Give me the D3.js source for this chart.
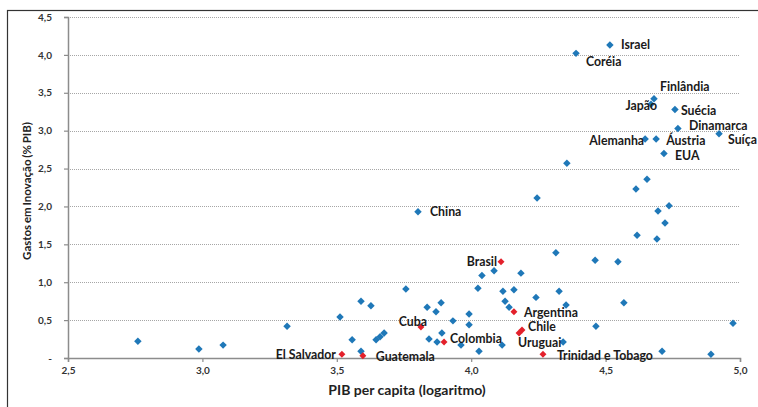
<!DOCTYPE html>
<html><head><meta charset="utf-8">
<script src="https://cdn.jsdelivr.net/npm/d3@7"></script>
<style>
html,body{margin:0;padding:0;background:#fff;}
svg{display:block;font-family:Lato,"Open Sans",sans-serif;}
</style></head>
<body><svg id="c" width="758" height="407"></svg>
<script>
// PIB per capita (log) and Gastos em Inovação (% PIB)
const blueX = [2.760,2.987,3.077,3.315,3.512,3.590,3.627,3.557,3.646,3.661,3.676,3.590,3.757,3.802,3.836,3.888,3.869,3.891,3.843,3.873,3.932,3.992,3.992,3.962,4.029,4.025,4.040,4.085,4.185,4.118,4.159,4.126,4.141,4.115,4.241,4.315,4.327,4.353,4.342,4.245,4.356,4.390,4.516,4.461,4.546,4.464,4.568,4.613,4.654,4.617,4.691,4.695,4.736,4.721,4.647,4.688,4.717,4.680,4.669,4.758,4.769,4.922,4.710,4.892,4.974];
const blueY = [0.22,0.12,0.17,0.42,0.54,0.75,0.69,0.24,0.24,0.28,0.33,0.09,0.91,1.93,0.67,0.73,0.61,0.33,0.25,0.21,0.49,0.58,0.44,0.17,0.09,0.92,1.09,1.15,1.12,0.88,0.90,0.75,0.67,0.17,0.80,1.39,0.88,0.70,0.21,2.11,2.57,4.02,4.13,1.29,1.27,0.42,0.73,2.23,2.36,1.62,1.57,1.94,2.01,1.78,2.89,2.89,2.70,3.42,3.35,3.28,3.03,2.96,0.09,0.05,0.46];
const redX = [4.111,4.159,3.813,4.189,4.178,3.899,3.519,3.597,4.267];
const redY = [1.27,0.61,0.41,0.37,0.33,0.21,0.05,0.03,0.05];

// labels
const labelNames = ["Israel","Coréia","Finlândia","Japão","Suécia","Dinamarca","Suíça","Alemanha","Áustria","EUA","China","Brasil","Argentina","Cuba","Chile","Uruguai","Colombia","El Salvador","Guatemala","Trinidad e Tobago"];
const labelX = [4.516,4.390,4.680,4.669,4.758,4.769,4.922,4.647,4.688,4.717,3.802,4.111,4.159,3.813,4.189,4.178,3.899,3.519,3.597,4.267];
const labelY = [4.13,4.02,3.42,3.35,3.28,3.03,2.96,2.89,2.89,2.70,1.93,1.27,0.61,0.41,0.37,0.33,0.21,0.05,0.03,0.05];
const labelDX = [11,10,6,6,6,11,9,-1,10,11,12,-4,10,6,6,-1,6,-6,13,14];
const labelDY = [0,8,-12,2,1,-3,6,2,2,2,0,0,1,-5,-3,10,-3,0,1,1];
const labelAnchor = ["start","start","start","end","start","start","start","end","start","start","start","end","start","end","start","start","start","end","start","start"];

const xTicks = [2.5,3.0,3.5,4.0,4.5,5.0];
const yTicks = [0,0.5,1.0,1.5,2.0,2.5,3.0,3.5,4.0,4.5];

const svg = d3.select("#c");
const W = 758, H = 407;
const m = {l:68, r:18, t:17, b:49};
const x = d3.scaleLinear().domain([2.5,5.0]).range([m.l, W-m.r]);
const y = d3.scaleLinear().domain([0,4.5]).range([H-m.b, m.t]);

// outer border
svg.append("rect").attr("x",7.5).attr("y",10.5).attr("width",800).attr("height",450)
  .attr("fill","none").attr("stroke","#333").attr("stroke-width",1.2);

// gridlines
svg.append("g").selectAll("line").data(yTicks.filter(d=>d>0)).join("line")
  .attr("x1",x(2.5)).attr("x2",x(5.0))
  .attr("y1",d=>Math.round(y(d))+0.5).attr("y2",d=>Math.round(y(d))+0.5)
  .attr("stroke","#a6a6a6").attr("stroke-width",1).attr("stroke-dasharray","1,1");

const fmt = d => d===0 ? "-" : d.toFixed(1).replace(".",",");

const ya = svg.append("g").attr("transform",`translate(${x(2.5)},0)`)
  .call(d3.axisLeft(y).tickValues(yTicks).tickFormat(fmt).tickSize(4).tickPadding(12));
const xa = svg.append("g").attr("transform",`translate(0,${y(0)})`)
  .call(d3.axisBottom(x).tickValues(xTicks).tickFormat(fmt).tickSize(4).tickPadding(5));
[ya,xa].forEach(a=>{
  a.select(".domain").attr("stroke","#8c8c8c").attr("stroke-width",1.5);
  a.selectAll(".tick line").attr("stroke","#8c8c8c").attr("stroke-width",1.2);
  a.selectAll(".tick text").attr("fill","#333").attr("font-size","10px").attr("font-weight","bold")
   .attr("font-family","Lato,'Open Sans',sans-serif");
});

// axis titles
svg.append("text").attr("x",407).attr("y",395).attr("text-anchor","middle")
  .attr("font-size","14px").attr("font-weight","bold").attr("fill","#222")
  .text("PIB per capita (logaritmo)");
svg.append("text").attr("transform","translate(31,191) rotate(-90)").attr("text-anchor","middle")
  .attr("font-size","11.5px").attr("font-weight","bold").attr("fill","#222").attr("word-spacing","-1px")
  .text("Gastos em Inovação (% PIB)");

// points
const sym = d3.symbol().type(d3.symbolSquare);
svg.append("g").selectAll("path").data(blueX.map((v,i)=>[v,blueY[i]])).join("path")
  .attr("d",sym.size(28)())
  .attr("transform",d=>`translate(${x(d[0])},${y(d[1])}) rotate(45)`)
  .attr("fill","#1f78b8");
svg.append("g").selectAll("path").data(redX.map((v,i)=>[v,redY[i]])).join("path")
  .attr("d",sym.size(24)())
  .attr("transform",d=>`translate(${x(d[0])},${y(d[1])}) rotate(45)`)
  .attr("fill","#e3202b");

// labels
svg.append("g").selectAll("text").data(labelNames.map((n,i)=>i)).join("text")
  .attr("x",i=>x(labelX[i])+labelDX[i])
  .attr("y",i=>y(labelY[i])+labelDY[i])
  .attr("dy","0.35em")
  .attr("text-anchor",i=>labelAnchor[i])
  .attr("font-size","12.3px").attr("font-weight","bold").attr("fill","#1a1a1a")
  .text(i=>labelNames[i]);
</script></body></html>
